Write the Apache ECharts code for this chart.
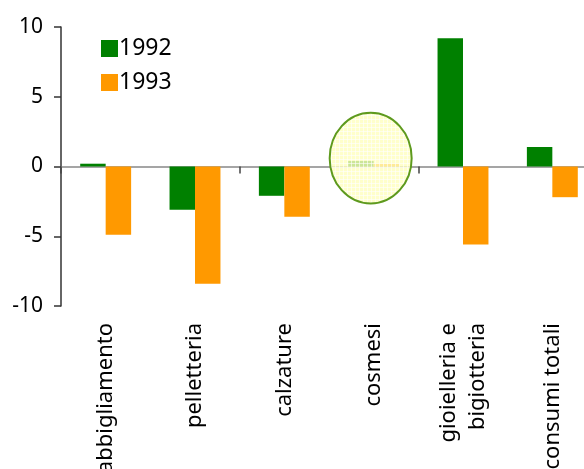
<!DOCTYPE html>
<html>
<head>
<meta charset="utf-8">
<script src="https://cdn.jsdelivr.net/npm/echarts@6/dist/echarts.min.js"></script>
<style>
  html, body { margin: 0; padding: 0; background: #fff; overflow: hidden; }
  /* the plot runs slightly past the right edge of the view, so the canvas is wider */
  #chart { width: 600px; height: 469px; }
</style>
</head>
<body>
<div id="chart"></div>
<script>
// Variazione percentuale dei consumi per comparto, 1992 e 1993
const categories = ['abbigliamento', 'pelletteria', 'calzature', 'cosmesi', 'gioielleria e\nbigiotteria', 'consumi totali'];
const seriesNames = ['1992', '1993'];
const values1992 = [0.2, -3.1, -2.1, 0.4, 9.2, 1.4];
const values1993 = [-4.9, -8.4, -3.6, 0.2, -5.6, -2.2];
const yMin = -10, yMax = 10, yStep = 5;
const highlighted = 'cosmesi';

const FONT = '"Noto Sans", sans-serif';
const chart = echarts.init(document.getElementById('chart'), null, { renderer: 'canvas' });

// light yellow grid texture for the highlight ellipse
function makeTexture() {
  const c = document.createElement('canvas');
  c.width = 4; c.height = 4;
  const g = c.getContext('2d');
  g.fillStyle = 'rgba(255,255,190,0.8)';
  g.fillRect(0, 0, 4, 4);
  g.fillStyle = 'rgba(255,255,255,0.6)';
  g.fillRect(3, 0, 1, 4);
  g.fillRect(0, 3, 4, 1);
  return c;
}

const option = {
  animation: false,
  backgroundColor: '#fff',
  textStyle: { fontFamily: FONT },
  legend: {
    orient: 'vertical',
    left: 96,
    top: 32,
    itemWidth: 17,
    itemHeight: 17,
    itemGap: 11,
    icon: 'rect',
    data: seriesNames,
    textStyle: { fontFamily: FONT, fontSize: 23, color: '#000', padding: [0, 0, 0, -4] }
  },
  grid: { left: 61, top: 27, height: 279, width: 536, containLabel: false, outerBoundsMode: 'none' },
  xAxis: [
    {
      type: 'category',
      data: categories,
      axisLine: { onZero: true, lineStyle: { color: '#888', width: 1.5 } },
      axisTick: { show: true, length: 7, lineStyle: { color: '#444', width: 1.5 } },
      axisLabel: { show: false },
      splitLine: { show: false }
    },
    {
      type: 'category',
      data: categories,
      position: 'bottom',
      axisLine: { show: false, onZero: false },
      axisTick: { show: false },
      splitLine: { show: false },
      axisLabel: {
        rotate: 90,
        margin: 17,
        interval: 0,
        fontFamily: FONT,
        fontSize: 22,
        lineHeight: 29,
        color: '#000'
      }
    }
  ],
  yAxis: {
    type: 'value',
    min: yMin,
    max: yMax,
    interval: yStep,
    axisLine: { show: true, lineStyle: { color: '#333', width: 1.5 } },
    axisTick: { show: true, length: 7, lineStyle: { color: '#333', width: 1.5 } },
    splitLine: { show: false },
    axisLabel: { margin: 18, fontFamily: FONT, fontSize: 21, color: '#000' }
  },
  series: [
    {
      name: seriesNames[0],
      type: 'bar',
      data: values1992,
      itemStyle: { color: '#008000' },
      barGap: '0%',
      barCategoryGap: '43%'
    },
    {
      name: seriesNames[1],
      type: 'bar',
      data: values1993,
      itemStyle: { color: '#ff9900' },
      barGap: '0%',
      barCategoryGap: '43%'
    }
  ]
};

chart.setOption(option);

// highlight ellipse around the cosmesi bars, placed from the axis scales
const centre = chart.convertToPixel({ xAxisIndex: 0, yAxisIndex: 0 }, [highlighted, 0.6]);
const oneUnit = Math.abs(chart.convertToPixel({ yAxisIndex: 0 }, 0) - chart.convertToPixel({ yAxisIndex: 0 }, 1));
chart.setOption({
  graphic: [{
    type: 'ellipse',
    shape: { cx: centre[0] - 3, cy: centre[1], rx: 41, ry: oneUnit * 3.25 },
    style: {
      fill: { image: makeTexture(), repeat: 'repeat' },
      stroke: '#5e9a1e',
      lineWidth: 2
    },
    z: 100
  }]
});
</script>
</body>
</html>
